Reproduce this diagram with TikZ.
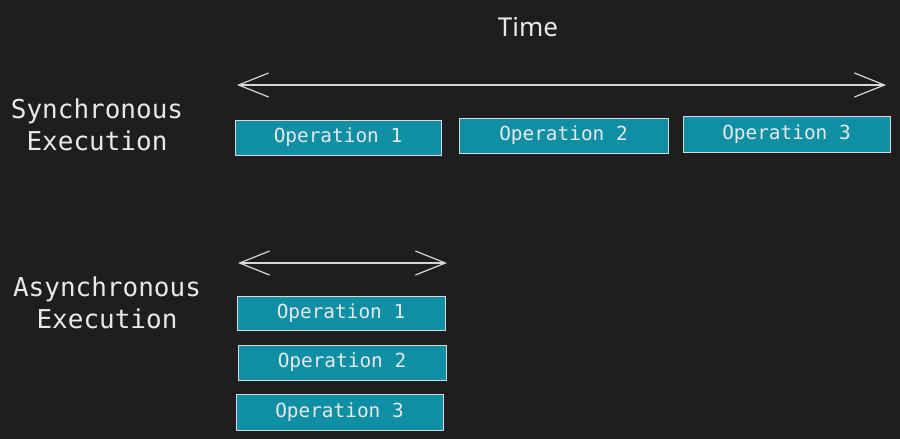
\documentclass[tikz,border=0pt]{standalone}
\usepackage{fontspec}
\setmonofont{DejaVu Sans Mono}
\newfontfamily\handfont{Noto Sans}
\usetikzlibrary{arrows.meta}
\definecolor{bg}{HTML}{1E1E20}
\definecolor{teal}{HTML}{0E8FA3}
\definecolor{ink}{HTML}{E8E8E8}
\definecolor{edge}{HTML}{D8D8D8}
\tikzset{
  opbox/.style={draw=edge, line width=1pt, fill=teal, text=ink, inner sep=0pt,
    font=\ttfamily\fontsize{19.4}{23}\selectfont},
  rowlabel/.style={text=ink, align=center, font=\ttfamily\fontsize{26}{32}\selectfont},
  timeline/.style={draw=edge, line width=1.3pt,
    {Straight Barb[length=30pt,width=24pt,line width=1.2pt]}-{Straight Barb[length=30pt,width=24pt,line width=1.2pt]}}
}
\begin{document}
\begin{tikzpicture}[x=1pt,y=-1pt]
\path[fill=bg, use as bounding box] (0,0) rectangle (900,439);

\node[text=ink, font=\handfont\fontsize{26}{30}\selectfont] (time) at (528,27) {Time};

% synchronous
\node[rowlabel] (synclabel) at (97,125) {Synchronous\\Execution};
\coordinate (sa) at (237,85);
\coordinate (sb) at (886,85);
\draw[timeline] (sa) -- (sb);
\node[opbox, minimum width=206pt, minimum height=35pt] (s1) at (338,137.5) {Operation 1};
\node[opbox, minimum width=209pt, minimum height=35pt] (s2) at (563.5,135.5) {Operation 2};
\node[opbox, minimum width=207pt, minimum height=36pt] (s3) at (786.5,134) {Operation 3};

% asynchronous
\node[rowlabel] (asynclabel) at (107,303) {Asynchronous\\Execution};
\coordinate (aa) at (238,263);
\coordinate (ab) at (447,263);
\draw[timeline] (aa) -- (ab);
\node[opbox, minimum width=208pt, minimum height=34pt] (a1) at (341,313) {Operation 1};
\node[opbox, minimum width=208pt, minimum height=35pt] (a2) at (342,362.5) {Operation 2};
\node[opbox, minimum width=207pt, minimum height=36pt] (a3) at (339.5,412) {Operation 3};
\end{tikzpicture}
\end{document}
